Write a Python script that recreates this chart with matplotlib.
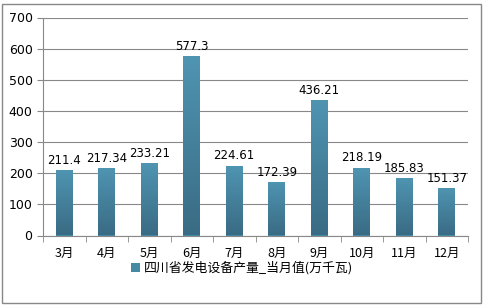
import matplotlib
matplotlib.use("Agg")
import numpy as np
import matplotlib.pyplot as plt
from matplotlib.patches import Rectangle
from matplotlib.colors import LinearSegmentedColormap

plt.rcParams['font.family'] = ['DejaVu Sans', 'Noto Sans CJK SC']

months = ["3月", "4月", "5月", "6月", "7月", "8月", "9月", "10月", "11月", "12月"]
values = [211.4, 217.34, 233.21, 577.3, 224.61, 172.39, 436.21, 218.19, 185.83, 151.37]
labels = ["211.4", "217.34", "233.21", "577.3", "224.61", "172.39", "436.21", "218.19", "185.83", "151.37"]
series_name = "四川省发电设备产量_当月值(万千瓦)"

fig = plt.figure(figsize=(4.84, 3.05), dpi=100)
ax = fig.add_axes([43 / 484, 1 - 235.5 / 305, 425 / 484, 218 / 305])

x = np.arange(len(months))
bars = ax.bar(x, values, width=0.4, color="#4589a5", zorder=3, label=series_name)

# vertical gradient, lighter at the top, darker at the bottom
cmap = LinearSegmentedColormap.from_list("bar", ["#3a6b84", "#4f95b2"])
grad = np.linspace(0, 1, 256).reshape(-1, 1)
for b in bars:
    bx, bw, bh = b.get_x(), b.get_width(), b.get_height()
    im = ax.imshow(grad, cmap=cmap, origin="lower", aspect="auto",
                   extent=(bx, bx + bw, 0, bh), zorder=3.5)
    im.set_clip_path(b)

for xi, v, t in zip(x, values, labels):
    ax.text(xi, v + 10, t, ha="center", va="bottom", fontsize=8.5, color="black", zorder=4)

ax.set_xlim(-0.5, len(months) - 0.5)
ax.set_ylim(0, 700)
ax.set_yticks(range(0, 701, 100))
ax.yaxis.grid(True, color="#888888", linewidth=0.8, zorder=0)
ax.set_xticks(x)
ax.set_xticklabels(months, fontsize=9, family=['Noto Sans CJK SC'])
ax.tick_params(axis="y", labelsize=9, length=4, color="#888888")
ax.tick_params(axis="x", length=0, pad=8)
# category separators on the x axis
ax.set_xticks([i - 0.5 for i in range(len(months) + 1)], minor=True)
ax.tick_params(axis="x", which="minor", length=4, color="#888888")

for s in ["top", "right"]:
    ax.spines[s].set_visible(False)
ax.spines["left"].set_color("#888888")
ax.spines["bottom"].set_color("#888888")

fig.legend(handles=[bars], labels=[series_name], loc="center", bbox_to_anchor=(0.5, 1 - 268 / 305),
           frameon=False, handlelength=0.7, handleheight=0.7, handletextpad=0.3,
           prop={"family": "Noto Sans CJK SC", "size": 9.3})

fig.patches.append(Rectangle((2 / 484, 2 / 305), 479 / 484, 299 / 305, transform=fig.transFigure,
                             fill=False, edgecolor="#888888", linewidth=1))

fig.savefig("out.png", dpi=100)
